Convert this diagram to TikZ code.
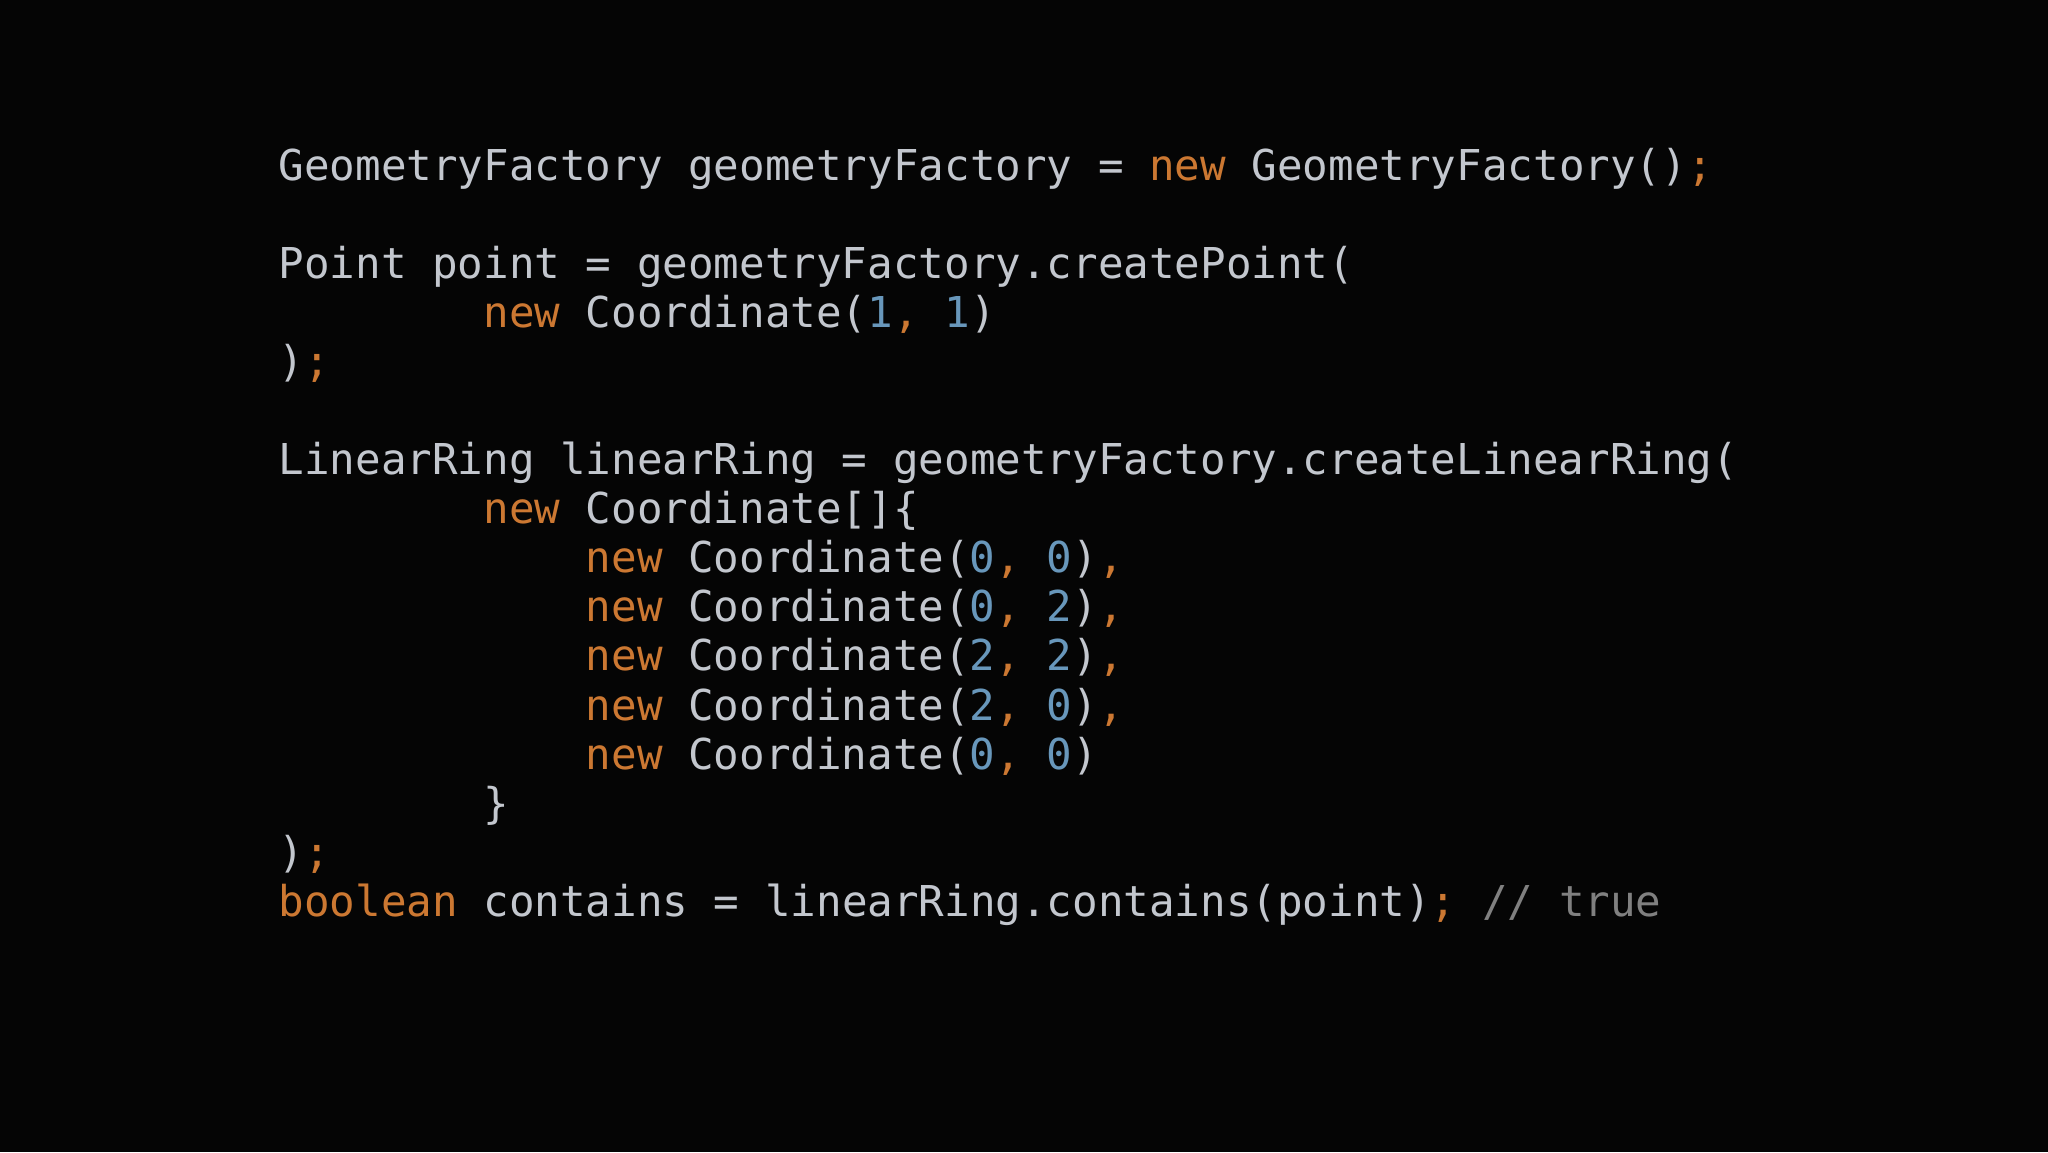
\documentclass[tikz,border=0pt]{standalone}
\usepackage{fontspec}
\setmonofont{DejaVu Sans Mono}
\definecolor{bg}{HTML}{050505}
\definecolor{fg}{HTML}{C3C7CE}
\definecolor{kw}{HTML}{CC7832}
\definecolor{num}{HTML}{6897BB}
\definecolor{cm}{HTML}{808080}
\newcommand{\kw}[1]{\textcolor{kw}{#1}}
\newcommand{\nm}[1]{\textcolor{num}{#1}}
\newcommand{\cmt}[1]{\textcolor{cm}{#1}}
\begin{document}
\begin{tikzpicture}[x=1pt,y=1pt,
  code/.style={anchor=base west,inner sep=0pt,text=fg,font=\ttfamily\fontsize{15.95}{18}\selectfont}]
\fill[bg] (0,0) rectangle (768,-432);
\useasboundingbox (0,0) rectangle (768,-432);
\def\lx{104.3}\def\cw{9.6}\def\ly{-67.6}\def\ls{18.4}
\node[code] (l0) at (\lx,\ly) {GeometryFactory geometryFactory = \kw{new} GeometryFactory()\kw{;}};
\node[code] (l2) at (\lx,\ly-2*\ls) {Point point = geometryFactory.createPoint(};
\node[code] (l3) at (\lx+8*\cw,\ly-3*\ls) {\kw{new} Coordinate(\nm{1}\kw{,} \nm{1})};
\node[code] (l4) at (\lx,\ly-4*\ls) {)\kw{;}};
\node[code] (l6) at (\lx,\ly-6*\ls) {LinearRing linearRing = geometryFactory.createLinearRing(};
\node[code] (l7) at (\lx+8*\cw,\ly-7*\ls) {\kw{new} Coordinate[]\{};
\node[code] (l8) at (\lx+12*\cw,\ly-8*\ls) {\kw{new} Coordinate(\nm{0}\kw{,} \nm{0})\kw{,}};
\node[code] (l9) at (\lx+12*\cw,\ly-9*\ls) {\kw{new} Coordinate(\nm{0}\kw{,} \nm{2})\kw{,}};
\node[code] (l10) at (\lx+12*\cw,\ly-10*\ls) {\kw{new} Coordinate(\nm{2}\kw{,} \nm{2})\kw{,}};
\node[code] (l11) at (\lx+12*\cw,\ly-11*\ls) {\kw{new} Coordinate(\nm{2}\kw{,} \nm{0})\kw{,}};
\node[code] (l12) at (\lx+12*\cw,\ly-12*\ls) {\kw{new} Coordinate(\nm{0}\kw{,} \nm{0})};
\node[code] (l13) at (\lx+8*\cw,\ly-13*\ls) {\}};
\node[code] (l14) at (\lx,\ly-14*\ls) {)\kw{;}};
\node[code] (l15) at (\lx,\ly-15*\ls) {\kw{boolean} contains = linearRing.contains(point)\kw{;} \cmt{// true}};
\end{tikzpicture}
\end{document}
